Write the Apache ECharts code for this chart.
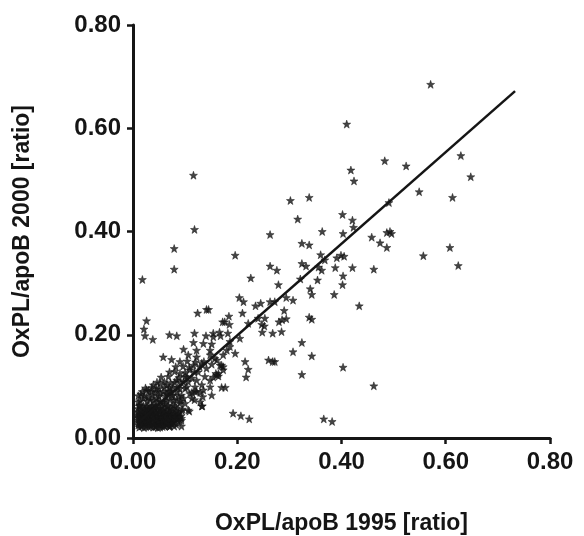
<!DOCTYPE html>
<html>
<head>
    <meta charset="utf-8"/>
    <title>OxPL/apoB</title>
    <script type="text/javascript" src="https://cdn.jsdelivr.net/npm/echarts@6/dist/echarts.min.js"></script>
    <style>
        html, body { margin: 0; padding: 0; background: #fff; }
        #chart { width: 584px; height: 536px; }
    </style>
</head>
<body>
<div id="chart"></div>
<script type="text/javascript">
    // scattered points above the cluster: [1995, 2000]
    let outerPoints = [
        [0.571, 0.685], [0.410, 0.608], [0.629, 0.547], [0.648, 0.506], [0.613, 0.466], [0.608, 0.369], [0.624, 0.334],
        [0.483, 0.537], [0.524, 0.527], [0.418, 0.519], [0.424, 0.498], [0.549, 0.477], [0.302, 0.460], [0.338, 0.466],
        [0.316, 0.424], [0.491, 0.456], [0.402, 0.433], [0.421, 0.422], [0.423, 0.408], [0.363, 0.400], [0.403, 0.396],
        [0.458, 0.389], [0.487, 0.398], [0.493, 0.400], [0.496, 0.396], [0.474, 0.378], [0.487, 0.369], [0.557, 0.353],
        [0.324, 0.377], [0.338, 0.374], [0.360, 0.355], [0.368, 0.345], [0.391, 0.349], [0.399, 0.354], [0.405, 0.352],
        [0.324, 0.338], [0.332, 0.333], [0.356, 0.331], [0.362, 0.325], [0.388, 0.330], [0.421, 0.330], [0.462, 0.327],
        [0.403, 0.314], [0.321, 0.308], [0.354, 0.306], [0.402, 0.297], [0.340, 0.289], [0.343, 0.278], [0.386, 0.278],
        [0.307, 0.267], [0.294, 0.272], [0.434, 0.256], [0.290, 0.247], [0.280, 0.225], [0.286, 0.229], [0.294, 0.231],
        [0.338, 0.234], [0.343, 0.230], [0.285, 0.206], [0.324, 0.185], [0.307, 0.167], [0.343, 0.159], [0.272, 0.148],
        [0.403, 0.137], [0.324, 0.123], [0.462, 0.101], [0.366, 0.037], [0.382, 0.032],
        [0.116, 0.509], [0.118, 0.404], [0.079, 0.367], [0.079, 0.327], [0.018, 0.307], [0.263, 0.394], [0.196, 0.354],
        [0.263, 0.333], [0.276, 0.325], [0.226, 0.310], [0.279, 0.297], [0.204, 0.272], [0.212, 0.264], [0.235, 0.256],
        [0.245, 0.261], [0.263, 0.264], [0.272, 0.264], [0.141, 0.249], [0.145, 0.249], [0.124, 0.242], [0.210, 0.242],
        [0.184, 0.236], [0.240, 0.232], [0.253, 0.232], [0.172, 0.225], [0.176, 0.225], [0.026, 0.227], [0.185, 0.220],
        [0.221, 0.222], [0.247, 0.220], [0.252, 0.217], [0.021, 0.211], [0.023, 0.198], [0.038, 0.191], [0.070, 0.200],
        [0.084, 0.198], [0.118, 0.203], [0.140, 0.198], [0.154, 0.203], [0.154, 0.196], [0.166, 0.205], [0.168, 0.198],
        [0.182, 0.203], [0.248, 0.205], [0.268, 0.203], [0.116, 0.185], [0.135, 0.183], [0.151, 0.182], [0.186, 0.187],
        [0.205, 0.193]
    ];

    // points around the line between 0.05 and 0.25
    let middlePoints = [
        [0.097, 0.172], [0.122, 0.170], [0.148, 0.170], [0.180, 0.170], [0.058, 0.157], [0.074, 0.152], [0.106, 0.161],
        [0.122, 0.157], [0.148, 0.161], [0.157, 0.154], [0.173, 0.161], [0.116, 0.141], [0.132, 0.145], [0.151, 0.143],
        [0.170, 0.141], [0.109, 0.132], [0.125, 0.128], [0.141, 0.135], [0.159, 0.125], [0.192, 0.048], [0.207, 0.043],
        [0.223, 0.037], [0.108, 0.052], [0.133, 0.062], [0.093, 0.034], [0.093, 0.023], [0.071, 0.023], [0.118, 0.074],
        [0.097, 0.077], [0.134, 0.080], [0.129, 0.088], [0.119, 0.090], [0.113, 0.088], [0.170, 0.098], [0.177, 0.098],
        [0.148, 0.112], [0.154, 0.118], [0.161, 0.122], [0.164, 0.120], [0.215, 0.148], [0.221, 0.133], [0.217, 0.118],
        [0.260, 0.151], [0.268, 0.148], [0.173, 0.138], [0.167, 0.141], [0.161, 0.151], [0.186, 0.177], [0.196, 0.164],
        [0.090, 0.125], [0.100, 0.119], [0.084, 0.112], [0.097, 0.109], [0.113, 0.116], [0.122, 0.112], [0.138, 0.119],
        [0.164, 0.125], [0.173, 0.132], [0.039, 0.103], [0.052, 0.106], [0.065, 0.103], [0.077, 0.099], [0.090, 0.096],
        [0.103, 0.099], [0.119, 0.099], [0.132, 0.103], [0.148, 0.099], [0.026, 0.093], [0.036, 0.090], [0.052, 0.086],
        [0.065, 0.086], [0.077, 0.083], [0.093, 0.083], [0.109, 0.086], [0.122, 0.090], [0.135, 0.093], [0.151, 0.083],
        [0.014, 0.072], [0.027, 0.072], [0.039, 0.073], [0.052, 0.071], [0.064, 0.072], [0.078, 0.073], [0.092, 0.071],
        [0.010, 0.082], [0.022, 0.082], [0.038, 0.083], [0.050, 0.081], [0.062, 0.082], [0.074, 0.083], [0.088, 0.081],
        [0.018, 0.090], [0.030, 0.091], [0.044, 0.089], [0.058, 0.090], [0.072, 0.091], [0.084, 0.089],
        [0.024, 0.097], [0.036, 0.098], [0.050, 0.096], [0.070, 0.097], [0.086, 0.098], [0.100, 0.096],
        [0.046, 0.108], [0.060, 0.109], [0.072, 0.107], [0.092, 0.108], [0.106, 0.109],
        [0.054, 0.118], [0.068, 0.119], [0.088, 0.117], [0.104, 0.118],
        [0.070, 0.128], [0.080, 0.129], [0.100, 0.127], [0.118, 0.128],
        [0.082, 0.138], [0.096, 0.139], [0.108, 0.137], [0.128, 0.138],
        [0.090, 0.148], [0.104, 0.149], [0.120, 0.147], [0.136, 0.148]
    ];

    // dense cluster near the origin
    let clusterPoints = [
        [0.020, 0.077], [0.033, 0.074], [0.045, 0.077], [0.058, 0.070], [0.071, 0.074], [0.084, 0.074], [0.100, 0.067],
        [0.113, 0.077], [0.129, 0.070], [0.013, 0.064], [0.026, 0.061], [0.039, 0.064], [0.052, 0.058], [0.065, 0.061],
        [0.077, 0.064], [0.090, 0.067], [0.106, 0.054], [0.132, 0.062], [0.015, 0.085], [0.030, 0.080], [0.045, 0.095],
        [0.060, 0.098], [0.010, 0.070], [0.022, 0.055], [0.048, 0.070], [0.068, 0.090], [0.080, 0.108], [0.035, 0.058],
        [0.060, 0.065],
        [0.012, 0.062], [0.020, 0.063], [0.028, 0.061], [0.036, 0.062], [0.044, 0.063], [0.056, 0.061], [0.068, 0.062], [0.080, 0.061],
        [0.009, 0.057], [0.017, 0.058], [0.030, 0.056], [0.041, 0.057], [0.047, 0.058], [0.059, 0.056], [0.071, 0.057], [0.084, 0.058], [0.095, 0.056],
        [0.014, 0.053], [0.022, 0.054], [0.031, 0.052], [0.039, 0.053], [0.048, 0.054], [0.057, 0.052], [0.066, 0.053], [0.075, 0.054], [0.084, 0.052], [0.094, 0.053],
        [0.010, 0.051], [0.018, 0.049], [0.027, 0.052], [0.035, 0.050], [0.044, 0.048], [0.052, 0.051], [0.061, 0.049], [0.070, 0.052], [0.079, 0.048], [0.088, 0.050],
        [0.012, 0.047], [0.020, 0.048], [0.028, 0.046], [0.036, 0.047], [0.044, 0.048], [0.053, 0.046], [0.061, 0.047], [0.070, 0.048], [0.078, 0.046], [0.087, 0.047],
        [0.008, 0.045], [0.016, 0.043], [0.024, 0.046], [0.031, 0.044], [0.040, 0.045], [0.048, 0.043], [0.057, 0.046], [0.066, 0.044], [0.074, 0.045], [0.083, 0.043],
        [0.013, 0.042], [0.021, 0.041], [0.029, 0.042], [0.038, 0.043], [0.047, 0.041], [0.056, 0.042], [0.064, 0.043], [0.073, 0.041], [0.082, 0.042], [0.092, 0.043],
        [0.010, 0.040], [0.019, 0.038], [0.028, 0.041], [0.036, 0.039], [0.045, 0.040], [0.053, 0.038], [0.062, 0.041], [0.071, 0.039], [0.080, 0.040], [0.090, 0.041],
        [0.013, 0.037], [0.022, 0.036], [0.030, 0.037], [0.040, 0.038], [0.048, 0.036], [0.057, 0.037], [0.066, 0.038], [0.075, 0.036], [0.084, 0.037], [0.093, 0.038],
        [0.009, 0.035], [0.017, 0.034], [0.025, 0.036], [0.033, 0.035], [0.042, 0.033], [0.050, 0.036], [0.058, 0.034], [0.067, 0.035], [0.076, 0.033], [0.085, 0.036],
        [0.015, 0.032], [0.023, 0.031], [0.032, 0.032], [0.041, 0.033], [0.050, 0.031], [0.059, 0.032], [0.068, 0.033], [0.078, 0.031], [0.087, 0.032],
        [0.011, 0.030], [0.020, 0.029], [0.028, 0.031], [0.037, 0.030], [0.046, 0.028], [0.055, 0.031], [0.064, 0.029], [0.073, 0.030],
        [0.014, 0.027], [0.023, 0.028], [0.031, 0.026], [0.040, 0.027], [0.048, 0.028], [0.057, 0.026], [0.065, 0.027], [0.074, 0.028], [0.083, 0.026],
        [0.010, 0.025], [0.018, 0.024], [0.027, 0.026], [0.035, 0.025], [0.044, 0.023], [0.052, 0.026], [0.060, 0.024], [0.069, 0.025],
        [0.016, 0.023], [0.025, 0.022], [0.034, 0.023], [0.043, 0.022], [0.052, 0.021], [0.061, 0.023], [0.070, 0.022], [0.079, 0.023],
        [0.012, 0.021], [0.021, 0.020], [0.030, 0.022], [0.039, 0.021], [0.048, 0.020], [0.057, 0.022]
    ];

    // regression line end points
    let fitLine = [[0.010, 0.030], [0.733, 0.672]];

    let star = 'path://M0,-10 L2.35,-3.24 L9.51,-3.09 L3.8,1.24 L5.88,8.09 L0,4 L-5.88,8.09 L-3.8,1.24 L-9.51,-3.09 L-2.35,-3.24 Z';
    let ink = '#151515';

    function axisStyle(name, gap) {
        return {
            type: 'value',
            min: 0,
            max: 0.8,
            interval: 0.2,
            name: name,
            nameLocation: 'middle',
            nameGap: gap,
            nameTextStyle: {
                fontFamily: 'Liberation Sans, Arial, sans-serif',
                fontWeight: 'bold',
                fontSize: 23,
                color: ink
            },
            axisLine: {show: true, onZero: false, lineStyle: {color: ink, width: 3}},
            axisTick: {show: true, length: 6, lineStyle: {color: ink, width: 2.5}},
            axisLabel: {
                margin: 12,
                fontFamily: 'Liberation Sans, Arial, sans-serif',
                fontWeight: 'bold',
                fontSize: 24,
                color: ink,
                formatter: function (v) {
                    return v.toFixed(2);
                }
            },
            splitLine: {show: false}
        };
    }

    let chart = echarts.init(document.getElementById('chart'));
    chart.setOption({
        animation: false,
        backgroundColor: '#fff',
        grid: {left: 133, right: 34, top: 25, bottom: 98, containLabel: false, outerBoundsMode: 'none'},
        xAxis: axisStyle('OxPL/apoB 1995 [ratio]', 74),
        yAxis: axisStyle('OxPL/apoB 2000 [ratio]', 99),
        series: [
            {
                type: 'scatter',
                symbol: star,
                symbolSize: 8,
                itemStyle: {color: ink, borderColor: ink, borderWidth: 0.6},
                data: outerPoints.concat(middlePoints, clusterPoints)
            },
            {
                type: 'line',
                symbol: 'none',
                lineStyle: {color: ink, width: 2.5},
                data: fitLine,
                z: 3
            }
        ]
    });
</script>
</body>
</html>
